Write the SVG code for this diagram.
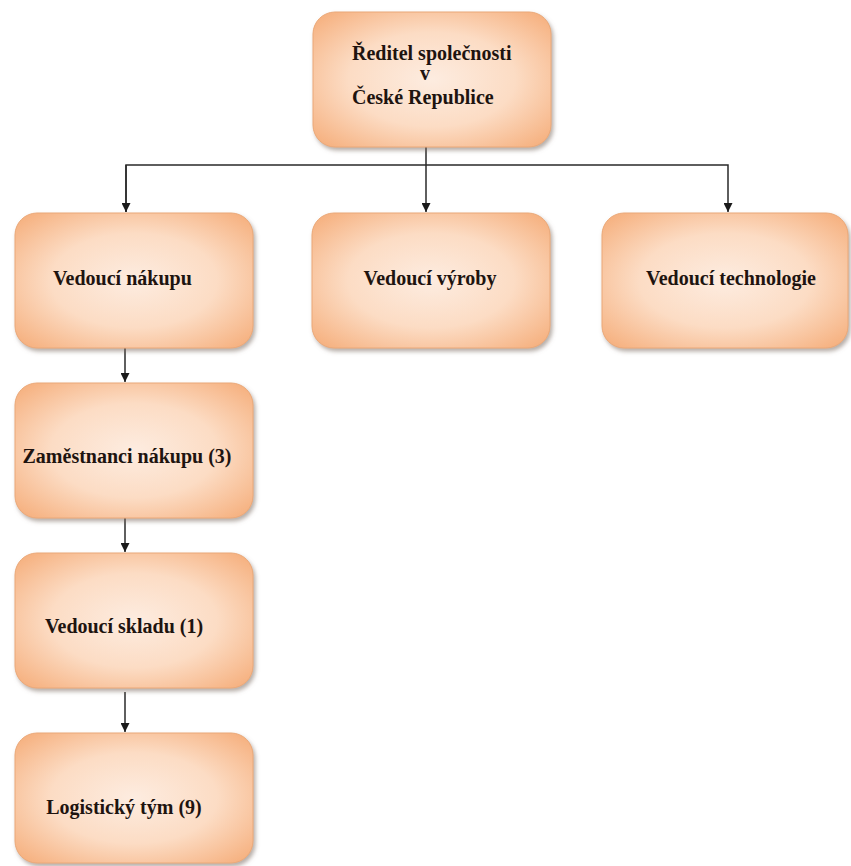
<svg xmlns="http://www.w3.org/2000/svg" width="851" height="866" viewBox="0 0 851 866">
<style>
.box{fill:url(#peach);stroke:#eaa878;stroke-width:1;filter:url(#shadow)}
.lbl{font-family:"Liberation Serif","Times New Roman",serif;font-weight:bold;font-size:20px;fill:#1e1410}
.conn{fill:none;stroke:#2a2a2a;stroke-width:1.5}
</style>
<defs>
<radialGradient id="peach" cx="50%" cy="50%" r="70%">
<stop offset="0" stop-color="#fdece0"/>
<stop offset="0.5" stop-color="#fcdcc4"/>
<stop offset="1" stop-color="#f5ac78"/>
</radialGradient>
<filter id="shadow" x="-10%" y="-10%" width="120%" height="125%">
<feDropShadow dx="2" dy="3" stdDeviation="2" flood-color="#7a6a60" flood-opacity="0.55"/>
</filter>
<marker id="arrow" viewBox="0 0 10 10" refX="10" refY="5" markerWidth="9" markerHeight="9" markerUnits="userSpaceOnUse" orient="auto">
<path d="M0,0 L10,5 L0,10 z" fill="#1a1a1a"/>
</marker>
</defs>
<rect width="851" height="866" fill="#ffffff"/>

<g id="connectors">
<line class="conn" x1="426" y1="147" x2="426" y2="212" marker-end="url(#arrow)"/>
<polyline class="conn" points="126,212 126,165 728,165 728,212" marker-end="url(#arrow)"/>
<line class="conn" x1="126" y1="165" x2="126" y2="212" marker-end="url(#arrow)"/>
<line class="conn" x1="125" y1="348" x2="125" y2="382" marker-end="url(#arrow)"/>
<line class="conn" x1="125" y1="518" x2="125" y2="552" marker-end="url(#arrow)"/>
<line class="conn" x1="125" y1="692" x2="125" y2="732" marker-end="url(#arrow)"/>
</g>

<g id="reditel">
<rect class="box" x="313" y="12" width="238" height="135" rx="22"/>
<text class="lbl" x="352" y="60">Ředitel společnosti</text>
<text class="lbl" x="425" y="80" text-anchor="middle">v</text>
<text class="lbl" x="352" y="104">České Republice</text>
</g>

<g id="vedouci-nakupu">
<rect class="box" x="15" y="213" width="238" height="135" rx="22"/>
<text class="lbl" x="53" y="285">Vedoucí nákupu</text>
</g>

<g id="vedouci-vyroby">
<rect class="box" x="312" y="213" width="238" height="135" rx="22"/>
<text class="lbl" x="430" y="285" text-anchor="middle">Vedoucí výroby</text>
</g>

<g id="vedouci-technologie">
<rect class="box" x="602" y="213" width="246" height="135" rx="22"/>
<text class="lbl" x="731" y="285" text-anchor="middle">Vedoucí technologie</text>
</g>

<g id="zamestnanci-nakupu">
<rect class="box" x="15" y="383" width="238" height="135" rx="22"/>
<text class="lbl" x="127" y="463" text-anchor="middle">Zaměstnanci nákupu (3)</text>
</g>

<g id="vedouci-skladu">
<rect class="box" x="15" y="553" width="238" height="135" rx="22"/>
<text class="lbl" x="124" y="633" text-anchor="middle">Vedoucí skladu (1)</text>
</g>

<g id="logisticky-tym">
<rect class="box" x="15" y="733" width="238" height="130" rx="22"/>
<text class="lbl" x="124" y="814" text-anchor="middle">Logistický tým (9)</text>
</g>
</svg>
